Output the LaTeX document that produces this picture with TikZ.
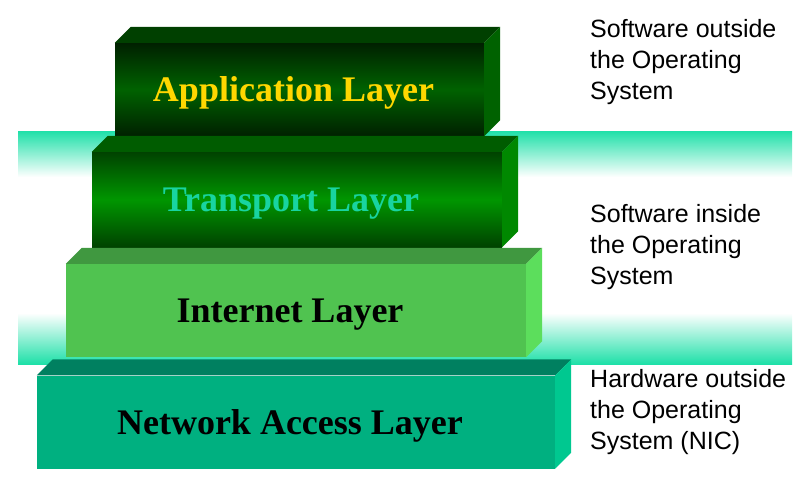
\documentclass[tikz,border=0pt]{standalone}
\usepackage{fontspec}
\setmainfont{Liberation Serif}
\newfontfamily\notefont{Liberation Sans}
\usetikzlibrary{positioning, calc}
\definecolor{bandteal}{RGB}{30,224,168}
\definecolor{appdark}{RGB}{0,32,0}
\definecolor{appmid}{RGB}{0,98,0}
\definecolor{apptext}{RGB}{255,215,0}
\definecolor{top-app}{RGB}{0,64,0}
\definecolor{side-app}{RGB}{0,98,0}
\definecolor{transdark}{RGB}{0,66,0}
\definecolor{transmid}{RGB}{0,150,0}
\definecolor{transtext}{RGB}{24,212,160}
\definecolor{top-trans}{RGB}{0,92,0}
\definecolor{side-trans}{RGB}{0,136,0}
\definecolor{inetface}{RGB}{80,195,80}
\definecolor{top-inet}{RGB}{64,152,64}
\definecolor{side-inet}{RGB}{92,222,92}
\definecolor{netface}{RGB}{0,176,128}
\definecolor{top-net}{RGB}{0,128,96}
\definecolor{side-net}{RGB}{0,200,144}

\begin{document}
\begin{tikzpicture}[x=1pt, y=-1pt,
    layerface/.style={inner sep=0pt, minimum height=93pt, text height=24pt, text depth=0pt, font=\bfseries\fontsize{36}{40}\selectfont, execute at end node={\kern12pt}},
    notetext/.style={anchor=north west, align=left, inner sep=0pt, font=\notefont\fontsize{25}{31}\selectfont}]
    \useasboundingbox (0,0) rectangle (807,477);

    % teal band behind the two middle layers
    \shade[top color=bandteal, bottom color=white] (18,131) rectangle (792,177);
    \shade[top color=white, bottom color=bandteal] (18,313) rectangle (792,364);

    % front faces
    \node[layerface, minimum width=518pt, fill=netface] (net) at (296,422) {Network Access Layer};
    \node[layerface, minimum width=460pt, fill=inetface] (inet) at (296,310.5) {Internet Layer};
    \node[layerface, minimum width=410pt, minimum height=95pt, top color=transdark, bottom color=transdark, middle color=transmid, text=transtext] (trans) at (297,199.5) {Transport Layer};
    \node[layerface, minimum width=369pt, top color=appdark, bottom color=appdark, middle color=appmid, text=apptext] (app) at (299.5,89.5) {Application Layer};

    % top and right side of each block
    \foreach \n in {net,inet,trans,app} {
        \fill[top-\n] (\n.north west) -- ++(16,-16) -- ($(\n.north east)+(16,-16)$) -- (\n.north east) -- cycle;
        \fill[side-\n] (\n.north east) -- ++(16,-16) -- ($(\n.south east)+(16,-16)$) -- (\n.south east) -- cycle;
    }

    % notes on the right
    \node[notetext] (outside) at (590,19) {Software outside\\the Operating\\System};
    \node[notetext] (inside) at (590,204) {Software inside\\the Operating\\System};
    \node[notetext] (hardware) at (590,369) {Hardware outside\\the Operating\\System (NIC)};
\end{tikzpicture}
\end{document}
